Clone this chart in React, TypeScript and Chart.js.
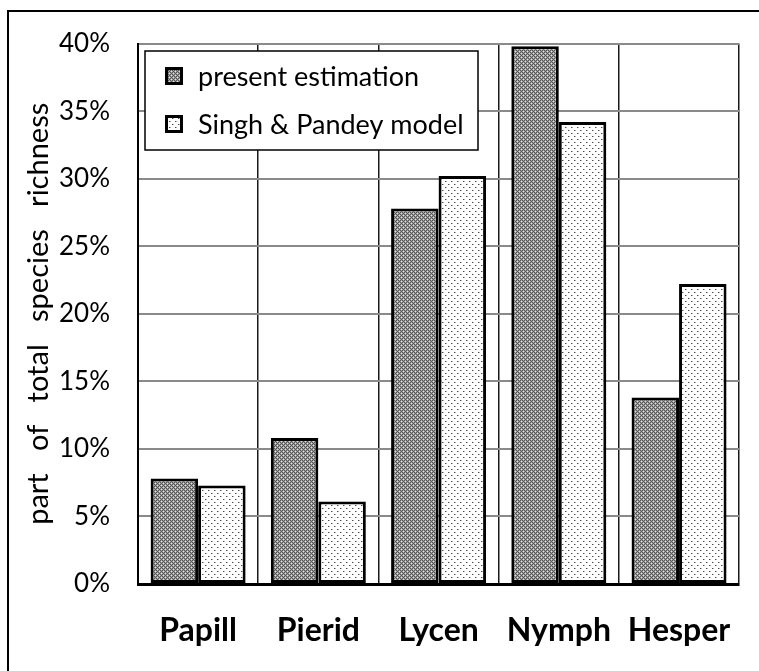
import React, { useEffect, useRef } from "react";
import { Chart, registerables } from "chart.js";

Chart.register(...registerables);

const categories = ["Papill", "Pierid", "Lycen", "Nymph", "Hesper"];
const presentEstimation = [7.8, 10.8, 27.8, 39.8, 13.8];
const singhPandey = [7.3, 6.1, 30.2, 34.2, 22.2];
const seriesNames = ["present estimation", "Singh & Pandey model"];
const yTitle = "part   of   total   species   richness";

const FONT = "Lato, 'Noto Sans', sans-serif";

function makeDarkPattern(ctx: CanvasRenderingContext2D): CanvasPattern | string {
  const c = document.createElement("canvas");
  c.width = 4;
  c.height = 4;
  const g = c.getContext("2d");
  if (!g) return "#808080";
  for (let y = 0; y < 4; y++) {
    for (let x = 0; x < 4; x++) {
      g.fillStyle = (x + y) % 2 === 0 ? "#555555" : "#a0a0a0";
      g.fillRect(x, y, 1, 1);
    }
  }
  g.fillStyle = "#e0e0e0";
  g.fillRect(1, 1, 1, 1);
  g.fillRect(3, 3, 1, 1);
  return ctx.createPattern(c, "repeat") || "#808080";
}

function makeDotPattern(ctx: CanvasRenderingContext2D): CanvasPattern | string {
  const c = document.createElement("canvas");
  c.width = 6;
  c.height = 6;
  const g = c.getContext("2d");
  if (!g) return "#eeeeee";
  g.fillStyle = "#ffffff";
  g.fillRect(0, 0, 6, 6);
  g.fillStyle = "#4a4a4a";
  g.fillRect(1, 1, 1, 1);
  g.fillRect(4, 4, 1, 1);
  g.fillStyle = "#b0b0b0";
  g.fillRect(2, 1, 1, 1);
  g.fillRect(5, 4, 1, 1);
  return ctx.createPattern(c, "repeat") || "#eeeeee";
}

export default function App() {
  const ref = useRef<HTMLCanvasElement | null>(null);

  useEffect(() => {
    const canvas = ref.current;
    if (!canvas) return;
    const ctx = canvas.getContext("2d");
    if (!ctx) return;
    const dark = makeDarkPattern(ctx);
    const dots = makeDotPattern(ctx);

    const framePlugin = {
      id: "frame",
      beforeDraw(chart: any) {
        const c = chart.ctx;
        c.save();
        c.fillStyle = "#ffffff";
        c.fillRect(0, 0, chart.width, chart.height);
        c.restore();
      },
      afterDraw(chart: any) {
        const c = chart.ctx;
        c.save();
        c.strokeStyle = "#000000";
        c.lineWidth = 2;
        c.strokeRect(8, 11, 900, 900);
        c.restore();
      },
    };

    const legendPlugin = {
      id: "boxLegend",
      afterDatasetsDraw(chart: any) {
        const c = chart.ctx;
        const x0 = 145;
        const y0 = 51;
        const w = 333;
        const h = 99;
        c.save();
        c.fillStyle = "#ffffff";
        c.fillRect(x0, y0, w, h);
        c.strokeStyle = "#000000";
        c.lineWidth = 1.5;
        c.strokeRect(x0, y0, w, h);
        const fills = [dark, dots];
        const rowsY = [y0 + 25, y0 + 73];
        c.font = "27px " + FONT;
        c.textBaseline = "middle";
        c.textAlign = "left";
        for (let i = 0; i < seriesNames.length; i++) {
          const cy = rowsY[i];
          const bx = 165;
          const by = cy - 9;
          c.fillStyle = fills[i] as any;
          c.fillRect(bx, by, 18, 18);
          c.strokeStyle = "#000000";
          c.lineWidth = 3;
          c.strokeRect(bx + 1.5, by + 1.5, 15, 15);
          c.fillStyle = "#000000";
          c.fillText(seriesNames[i], 198, cy + 1);
        }
        c.restore();
      },
    };

    const chart = new Chart(canvas, {
      type: "bar",
      data: {
        labels: categories,
        datasets: [
          {
            label: seriesNames[0],
            data: presentEstimation,
            backgroundColor: dark as any,
            borderColor: "#000000",
            borderWidth: 3,
            borderSkipped: false,
            categoryPercentage: 0.79,
            barPercentage: 1.0,
          },
          {
            label: seriesNames[1],
            data: singhPandey,
            backgroundColor: dots as any,
            borderColor: "#000000",
            borderWidth: 3,
            borderSkipped: false,
            categoryPercentage: 0.79,
            barPercentage: 1.0,
          },
        ],
      },
      options: {
        responsive: false,
        animation: false,
        devicePixelRatio: 1,
        layout: { padding: { top: 42, right: 17, left: 0, bottom: 0 } },
        plugins: {
          legend: { display: false },
          tooltip: { enabled: false },
        },
        scales: {
          x: {
            offset: true,
            grid: {
              offset: true,
              drawTicks: false,
              color: "#1a1a1a",
              lineWidth: (c: any) => (c.index === categories.length ? 3 : 1.5),
            },
            border: { display: true, color: "#000000", width: 3 },
            ticks: {
              color: "#000000",
              padding: 27,
              font: { family: FONT, size: 32, weight: "bold" },
            },
            afterFit: (s: any) => {
              s.height = 87;
            },
          },
          y: {
            min: 0,
            max: 40,
            grid: {
              drawTicks: false,
              color: "#8a8a8a",
              lineWidth: 2,
            },
            border: { display: true, color: "#000000", width: 2 },
            ticks: {
              stepSize: 5,
              color: "#000000",
              padding: 28,
              font: { family: FONT, size: 26 },
              callback: (v: any) => v + "%",
            },
            title: {
              display: true,
              text: yTitle,
              color: "#000000",
              font: { family: FONT, size: 29 },
              padding: { top: 21, bottom: 0 },
            },
            afterFit: (s: any) => {
              s.width = 138;
            },
          },
        },
      },
      plugins: [framePlugin, legendPlugin],
    });

    return () => {
      chart.destroy();
    };
  }, []);

  return (
    <div style={{ position: "absolute", left: 0, top: 0, width: 759, height: 671, background: "#fff" }}>
      <canvas ref={ref} width={759} height={671} style={{ display: "block", width: 759, height: 671 }} />
    </div>
  );
}
